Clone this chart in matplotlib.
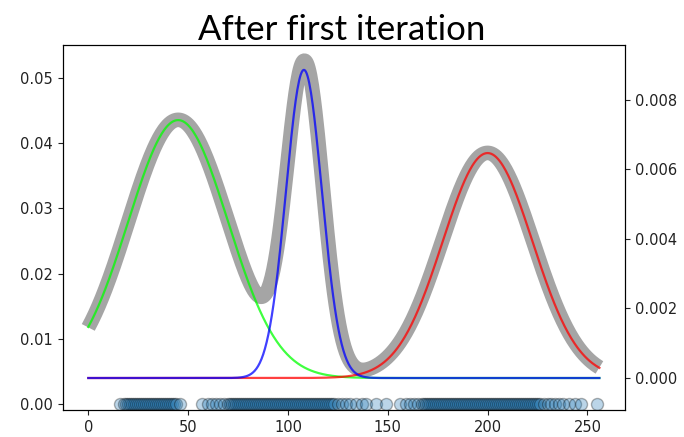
import numpy as np
import matplotlib
matplotlib.use("Agg")
import matplotlib.pyplot as plt

# Observed samples (drawn along y = 0 on the left axis)
samples = [
    16, 18, 19, 20, 21, 22, 23, 24, 25, 26, 27, 28, 29, 30, 31, 32, 33, 34,
    35, 36, 37, 38, 39, 40, 41, 42, 43, 44, 46,
    57, 60, 62, 64, 66, 68, 70, 71, 72, 73, 74, 75, 76, 77, 78, 79, 80, 81,
    82, 83, 84, 85, 86, 87, 88, 89, 90, 91, 92, 93, 94, 95, 96, 97, 98, 99,
    100, 101, 102, 103, 104, 105, 106, 107, 108, 109, 110, 111, 112, 113,
    114, 115, 116, 117, 118, 119, 120, 121, 122, 123, 125, 127, 129, 131,
    134, 137, 139, 144, 149,
    156, 159, 161, 163, 165, 167, 168, 169, 170, 171, 172, 173, 174, 175,
    176, 177, 178, 179, 180, 181, 182, 183, 184, 185, 186, 187, 188, 189,
    190, 191, 192, 193, 194, 195, 196, 197, 198, 199, 200, 201, 202, 203,
    204, 205, 206, 207, 208, 209, 210, 211, 212, 213, 214, 215, 216, 217,
    218, 219, 220, 221, 222, 223, 224, 225, 226, 228, 230, 232, 234, 236,
    238, 241, 244, 247, 255,
]

# Reference density (thick gray curve, left axis): Gaussian bumps given by
# centre, spread and peak height
ref_means = [45, 108.5, 200, 128]
ref_sds = [25, 9.0, 22.8, 400]
ref_peaks = [0.0396, 0.0470, 0.0345, 0.0041]

# Fitted mixture components after the first EM step (right axis)
comp_means = [45, 108, 200]
comp_sds = [25, 9, 22.5]
comp_weights = [0.465, 0.2, 0.365]
comp_colors = ["lime", "blue", "red"]
comp_order = [0, 2, 1]

x_min, x_max = 0, 256

xs = np.linspace(x_min, x_max, 600)


def bump(x, m, s):
    return np.exp(-0.5 * ((x - m) / s) ** 2)


ref_curve = sum(p * bump(xs, m, s) for m, s, p in zip(ref_means, ref_sds, ref_peaks))

fig = plt.figure(figsize=(6.84, 4.37), dpi=100)
ax = fig.add_axes([0.0917, 0.0618, 0.8220, 0.8352])

ax.plot(xs, ref_curve, color="#a5a5a5", lw=10.5, solid_capstyle="butt", zorder=1)
ax.scatter(samples, np.zeros(len(samples)), s=75, c="C0", edgecolors="k",
           alpha=0.3, zorder=2)

ax2 = ax.twinx()
for i in comp_order:
    m, s, w = comp_means[i], comp_sds[i], comp_weights[i]
    pdf = w * bump(xs, m, s) / (s * np.sqrt(2 * np.pi))
    ax2.plot(xs, pdf, color=comp_colors[i], lw=1.6, alpha=0.75)

ax.set_xlim(-12.8, 268.8)
ax.set_ylim(-0.00095, 0.0551)
ax2.set_ylim(-0.00092, 0.00958)
ax.set_xticks([0, 50, 100, 150, 200, 250])
ax.set_yticks([0.0, 0.01, 0.02, 0.03, 0.04, 0.05])
ax2.set_yticks([0.0, 0.002, 0.004, 0.006, 0.008])

for a in (ax, ax2):
    a.tick_params(labelsize=10.5, colors="#222222")
    for lab in a.get_xticklabels() + a.get_yticklabels():
        lab.set_family("DejaVu Sans")

fig.text(0.5, 0.908, "After first iteration", ha="center", va="baseline",
         fontsize=25, family=["Lato", "DejaVu Sans"])

fig.savefig("out.png", dpi=100)
